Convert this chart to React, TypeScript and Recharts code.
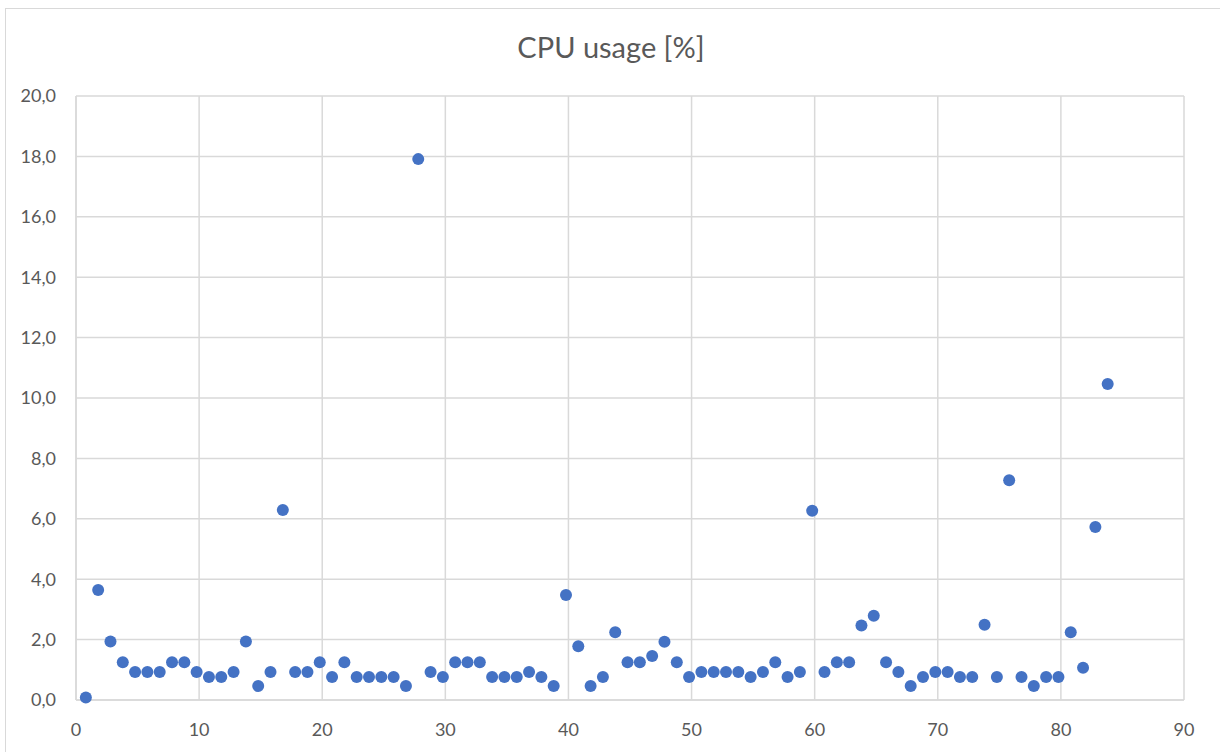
import { ScatterChart, Scatter, XAxis, YAxis, CartesianGrid } from 'recharts'

// sample index (as plotted, slightly left of the integer)
const sampleX = [
  0.8, 1.8, 2.8, 3.8, 4.8, 5.8, 6.8, 7.8, 8.8, 9.8,
  10.8, 11.8, 12.8, 13.8, 14.8, 15.8, 16.8, 17.8, 18.8, 19.8,
  20.8, 21.8, 22.8, 23.8, 24.8, 25.8, 26.8, 27.8, 28.8, 29.8,
  30.8, 31.8, 32.8, 33.8, 34.8, 35.8, 36.8, 37.8, 38.8, 39.8,
  40.8, 41.8, 42.8, 43.8, 44.8, 45.8, 46.8, 47.8, 48.8, 49.8,
  50.8, 51.8, 52.8, 53.8, 54.8, 55.8, 56.8, 57.8, 58.8, 59.8,
  60.8, 61.8, 62.8, 63.8, 64.8, 65.8, 66.8, 67.8, 68.8, 69.8,
  70.8, 71.8, 72.8, 73.8, 74.8, 75.8, 76.8, 77.8, 78.8, 79.8,
  80.8, 81.8, 82.8, 83.8,
]

const cpuUsage = [
  0.08, 3.64, 1.94, 1.25, 0.93, 0.93, 0.93, 1.25, 1.25, 0.93,
  0.76, 0.76, 0.93, 1.94, 0.46, 0.93, 6.29, 0.93, 0.93, 1.25,
  0.76, 1.25, 0.76, 0.76, 0.76, 0.76, 0.46, 17.91, 0.93, 0.76,
  1.25, 1.25, 1.25, 0.76, 0.76, 0.76, 0.93, 0.76, 0.46, 3.48,
  1.78, 0.46, 0.76, 2.24, 1.25, 1.25, 1.46, 1.93, 1.25, 0.76,
  0.93, 0.93, 0.93, 0.93, 0.76, 0.93, 1.25, 0.76, 0.93, 6.27,
  0.93, 1.25, 1.25, 2.47, 2.79, 1.25, 0.93, 0.46, 0.76, 0.93,
  0.93, 0.76, 0.76, 2.49, 0.76, 7.28, 0.76, 0.46, 0.76, 0.76,
  2.24, 1.07, 5.73, 10.46,
]

const xTicks = [0, 10, 20, 30, 40, 50, 60, 70, 80, 90]
const yTicks = [0, 2, 4, 6, 8, 10, 12, 14, 16, 18, 20]

const data = sampleX.map((x, i) => ({ x, y: cpuUsage[i] }))

const font = 'Lato, "Open Sans", sans-serif'
const textColor = '#595959'
const gridColor = '#d9d9d9'

const Dot = (props: any) => <circle cx={props.cx} cy={props.cy} r={6} fill="#4472C4" />

export default function App() {
  return (
    <div style={{ position: 'absolute', left: 0, top: 0, width: 1220, height: 752, background: '#fff', fontFamily: font }}>
      <div
        style={{
          position: 'absolute',
          left: 5,
          top: 8,
          width: 1230,
          height: 760,
          border: `1px solid ${gridColor}`,
          boxSizing: 'border-box',
        }}
      />
      <div
        style={{
          position: 'absolute',
          left: 0,
          top: 29,
          width: 1222,
          textAlign: 'center',
          fontSize: 29,
          lineHeight: '36px',
          color: textColor,
        }}
      >
        CPU usage [%]
      </div>
      <ScatterChart
        width={1220}
        height={752}
        margin={{ top: 96, right: 36, bottom: 0, left: 0 }}
        style={{ position: 'absolute', left: 0, top: 0 }}
      >
        <CartesianGrid stroke={gridColor} strokeWidth={1.5} />
        <XAxis
          type="number"
          dataKey="x"
          domain={[0, 90]}
          ticks={xTicks}
          height={52}
          tickLine={false}
          axisLine={{ stroke: gridColor, strokeWidth: 1.5 }}
          tick={{ fontSize: 18, fill: textColor, fontFamily: font }}
          tickMargin={17}
        />
        <YAxis
          type="number"
          dataKey="y"
          domain={[0, 20]}
          ticks={yTicks}
          width={76}
          tickLine={false}
          axisLine={{ stroke: gridColor, strokeWidth: 1.5 }}
          tick={{ fontSize: 18, fill: textColor, fontFamily: font }}
          tickMargin={14}
          tickFormatter={(v: number) => v.toFixed(1).replace('.', ',')}
        />
        <Scatter data={data} fill="#4472C4" shape={Dot} isAnimationActive={false} />
      </ScatterChart>
    </div>
  )
}
